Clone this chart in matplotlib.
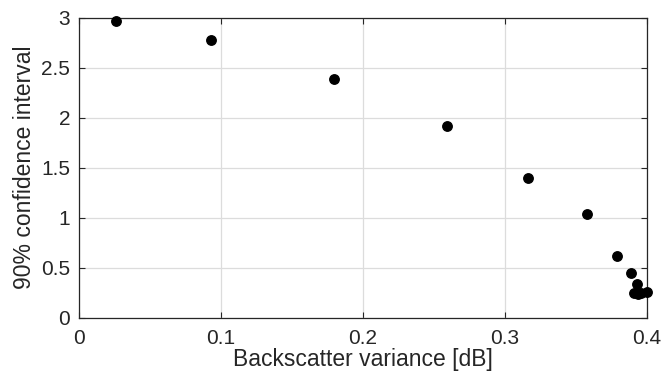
import matplotlib
matplotlib.use('Agg')
import matplotlib.pyplot as plt

# backscatter variance [dB] vs 90% confidence interval
variance = [0.026, 0.093, 0.180, 0.259, 0.316, 0.358, 0.379, 0.389,
            0.393, 0.391, 0.394, 0.396, 0.400]
conf_interval = [2.97, 2.78, 2.39, 1.92, 1.40, 1.04, 0.62, 0.45,
                 0.34, 0.25, 0.24, 0.25, 0.26]

xticks = [0, 0.1, 0.2, 0.3, 0.4]
yticks = [0, 0.5, 1, 1.5, 2, 2.5, 3]

plt.rcParams['font.family'] = ['Liberation Sans', 'DejaVu Sans']
axis_color = '#262626'

fig = plt.figure(figsize=(6.67, 3.82), dpi=100)
ax = fig.add_axes([0.118, 0.168, 0.852, 0.786])

ax.plot(variance, conf_interval, 'o', color='black', markersize=6.8,
        clip_on=False, zorder=3)

ax.set_xlim(0, 0.4)
ax.set_ylim(0, 3)
ax.set_xticks(xticks)
ax.set_xticklabels(['0', '0.1', '0.2', '0.3', '0.4'])
ax.set_yticks(yticks)
ax.set_yticklabels(['0', '0.5', '1', '1.5', '2', '2.5', '3'])

ax.grid(True, color='#dcdcdc', linewidth=0.9)
ax.set_axisbelow(True)
ax.tick_params(direction='in', top=True, right=True, length=4,
               width=0.8, colors=axis_color, labelsize=15)
ax.tick_params(axis='x', pad=8)
ax.tick_params(axis='y', pad=6)
for spine in ax.spines.values():
    spine.set_color(axis_color)
    spine.set_linewidth(0.9)

ax.set_xlabel('Backscatter variance [dB]', fontsize=16.5, color=axis_color, labelpad=0)
ax.set_ylabel('90% confidence interval', fontsize=16.5, color=axis_color, labelpad=4)

fig.savefig('out.png', dpi=100)
